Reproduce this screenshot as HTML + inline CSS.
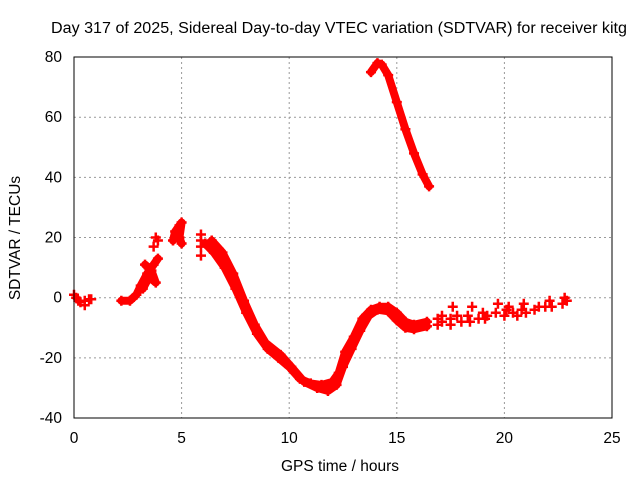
<!DOCTYPE html>
<html><head><meta charset="utf-8"><style>
body{margin:0;background:#fff}
svg text{font-family:"Liberation Sans",sans-serif;font-size:15.5px;fill:#000}
</style></head><body>
<svg id="c" width="640" height="480">
<rect width="640" height="480" fill="#fff"/>
<g id="grid"></g><g id="marks"></g><g id="axes"></g>
<text x="51" y="33" textLength="576" lengthAdjust="spacingAndGlyphs">Day 317 of 2025, Sidereal Day-to-day VTEC variation (SDTVAR) for receiver kitg</text>
<text x="340" y="471" text-anchor="middle">GPS time / hours</text>
<text transform="translate(20,238) rotate(-90)" text-anchor="middle">SDTVAR / TECUs</text>
</svg>
<script>
const xTicks=[0,5,10,15,20,25];
const yTicks=[-40,-20,0,20,40,60,80];
const trackMainA=[[6.1,18],[6.5,15],[7.0,10],[7.5,3],[8.0,-5],[8.5,-12],[9.0,-17],[9.5,-20],[10.0,-23],[10.5,-27],[11.0,-28.5],[11.5,-29],[12.0,-28],[12.3,-25],[12.6,-18],[13.0,-13],[13.4,-7],[13.8,-4],[14.2,-3],[14.6,-3],[15.0,-5],[15.4,-8],[15.8,-9],[16.4,-8]];
const trackMainB=[[6.4,19],[6.9,15],[7.4,8],[7.9,-1],[8.4,-9],[8.9,-15],[9.6,-19],[10.1,-23],[10.7,-28],[11.3,-30],[11.8,-31],[12.2,-29],[12.5,-23],[12.9,-17],[13.3,-11],[13.7,-6],[14.1,-4],[14.6,-4.5],[15.0,-7.5],[15.4,-10],[15.8,-10.5],[16.4,-9.5]];
const trackHigh=[[13.8,75],[14.1,78],[14.3,77.5],[14.6,74],[15.0,65],[15.4,56],[15.8,48],[16.2,41],[16.5,37]];
const trackRise=[[2.2,-1],[2.6,-1],[2.9,1],[3.1,4],[3.4,8],[3.7,11],[3.9,13]];
const trackCross=[[3.2,3],[3.5,7],[3.8,5],[3.6,9],[3.3,11]];
const trackPeak=[[4.6,19],[4.7,22],[4.9,24],[5.0,25],[4.9,20],[5.0,18]];
const scatterPts=[[0,1],[0.1,0],[0.2,-1],[0.3,-1.5],[0.5,-1],[0.5,-2.5],[0.7,-0.5],[0.8,-0.5],[3.7,17],[3.9,19],[3.8,20],[5.9,21],[5.9,19],[5.9,17],[5.9,14],
[16.9,-7],[16.9,-9],[17.1,-6],[17.1,-8],[17.5,-7],[17.5,-9],[17.6,-3],[17.8,-6],[18.0,-8],[18.3,-6],[18.4,-8],[18.5,-3],[18.8,-7],[19.0,-5],[19.1,-7],[19.2,-6],[19.6,-5],[19.7,-2],[20.0,-6],[20.1,-4],[20.2,-3],[20.4,-5],[20.6,-6],[20.8,-4],[20.9,-2],[21.0,-5],[21.4,-4],[21.6,-3],[21.9,-3],[22.1,-1],[22.2,-3],[22.7,-2],[22.8,0],[22.9,-1]];
const X=t=>74+t*21.52, Y=v=>297.7-v*3.008;
const NS='http://www.w3.org/2000/svg';
const grid=document.getElementById('grid'),marks=document.getElementById('marks'),axes=document.getElementById('axes');
function mk(tag,attrs,parent){const e=document.createElementNS(NS,tag);for(const k in attrs)e.setAttribute(k,attrs[k]);parent.appendChild(e);return e;}
xTicks.forEach(t=>{
 const l=mk('line',{x1:X(t),x2:X(t),y1:57,y2:418,stroke:'#999','stroke-dasharray':'2,3'},grid);
 
 
 const tx=mk('text',{x:X(t),y:443,'text-anchor':'middle'},axes);tx.textContent=t;
 
 
});
yTicks.forEach(v=>{
 const l=mk('line',{x1:74,x2:612,y1:Y(v),y2:Y(v),stroke:'#999','stroke-dasharray':'2,3'},grid);
 
 
 const tx=mk('text',{x:62,y:Y(v)+5,'text-anchor':'end'},axes);tx.textContent=v;
 
 
});
const fr=mk('rect',{x:74,y:57,width:538,height:361,fill:'none',stroke:'#000'},axes);


function plus(t,v){const x=X(t),y=Y(v);
 const p=mk('path',{d:`M${x-5} ${y}H${x+5}M${x} ${y-5}V${y+5}`,stroke:'#f00','stroke-width':2.5},marks);
 
 }
[trackMainA,trackMainB,trackHigh,trackRise,trackCross,trackPeak].forEach(tr=>{
 const pl=mk('polyline',{points:tr.map(p=>X(p[0])+','+Y(p[1])).join(' '),fill:'none',stroke:'#f00','stroke-width':8,'stroke-linejoin':'round','stroke-linecap':'round'},marks);
 
 
 tr.forEach(p=>plus(p[0],p[1]));
});
scatterPts.forEach(p=>plus(p[0],p[1]));
</script>
</body></html>
